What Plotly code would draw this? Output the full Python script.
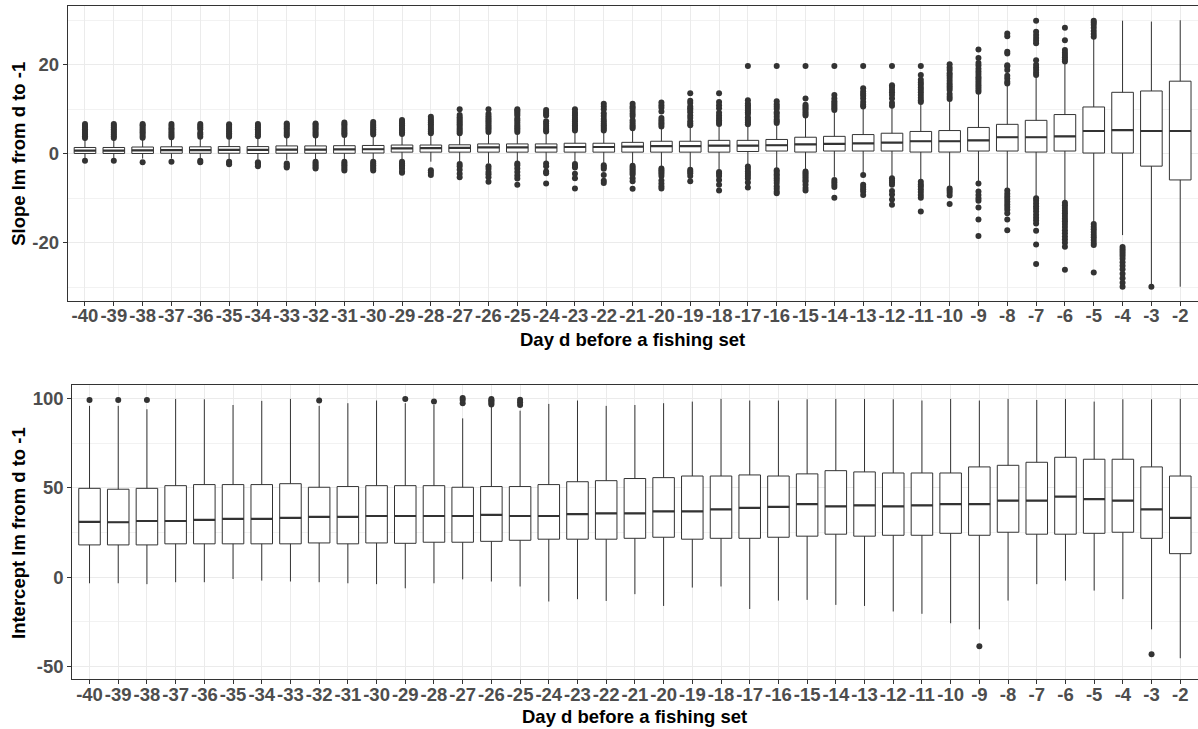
import plotly.graph_objects as go

# Days before a fishing set (x categories)
days = list(range(-40, -1))

# Slope of lm from day d to -1: box statistics per day
slope_q1 = [0.05, 0.05, 0.05, 0.1, 0.1, 0.1, 0.05, 0.1, 0.1, 0.1, 0.15,
            0.35, 0.35, 0.35, 0.35, 0.35, 0.35, 0.35, 0.35, 0.35, 0.35, 0.35, 0.35, 0.5, 0.6,
            0.37, 0.6, 0.6, 0.6, 0.37, 0.37, 0.6, 0.6, 0.37, 0.6, 0.15, 0.15, -2.8, -5.9]
slope_med = [0.7, 0.7, 0.75, 0.8, 0.8, 0.85, 0.85, 0.9, 0.9, 0.95, 1.0,
             1.2, 1.25, 1.3, 1.4, 1.4, 1.4, 1.5, 1.5, 1.6, 1.7, 1.7, 1.8, 1.8, 1.9,
             2.1, 2.2, 2.3, 2.5, 2.8, 2.8, 3.0, 3.7, 3.7, 3.9, 5.1, 5.3, 5.1, 5.1]
slope_q3 = [1.4, 1.4, 1.5, 1.55, 1.55, 1.6, 1.6, 1.75, 1.75, 1.8, 1.85,
            1.95, 1.95, 2.0, 2.2, 2.2, 2.2, 2.35, 2.35, 2.55, 2.8, 2.8, 3.0, 3.0, 3.2,
            3.7, 3.9, 4.3, 4.6, 5.0, 5.2, 5.9, 6.6, 7.5, 8.8, 10.5, 13.8, 14.1, 16.3]
slope_lo = [-1.0, -1.0, -1.1, -1.1, -1.1, -1.2, -1.3, -1.4, -1.4, -1.5, -1.5,
            -1.4, -1.8, -1.8, -2.2, -1.8, -1.8, -1.9, -2.2, -2.3, -2.9, -3.1, -3.6, -2.5, -3.3,
            -3.7, -5.2, -4.3, -5.1, -5.9, -7.4, -6.3, -7.9, -9.6, -10.6, -15.4, -18.3, -29.4, -29.9]
slope_hi = [3.2, 3.2, 3.3, 3.4, 3.5, 3.5, 3.6, 3.8, 3.8, 3.9, 4.0,
            4.1, 4.3, 4.3, 4.6, 4.6, 4.7, 4.9, 4.9, 5.4, 5.8, 6.1, 6.4, 6.3, 6.6,
            8.3, 9.5, 10.2, 10.5, 11.2, 11.8, 13.6, 15.5, 17.3, 20.3, 25.9, 29.9, 29.7, 30.0]
slope_outliers = [
    [3.5, 3.9, 4.3, 4.7, 5.1, 5.5, 5.9, 6.3, 6.7, -1.6],
    [3.5, 3.9, 4.3, 4.7, 5.1, 5.5, 5.9, 6.3, 6.7, -1.6],
    [3.6, 4.0, 4.4, 4.8, 5.2, 5.6, 6.0, 6.4, 6.7, -1.9],
    [3.7, 4.1, 4.5, 4.9, 5.3, 5.7, 6.2, 6.7, -1.8],
    [3.8, 4.3, 4.7, 5.5, 5.9, 6.3, 6.7, -1.6, -1.9],
    [3.8, 4.2, 4.6, 5.0, 5.4, 5.8, 6.2, 6.6, -1.8, -2.1, -2.4],
    [3.9, 4.3, 4.7, 5.1, 5.5, 5.9, 6.3, 6.7, -1.9, -2.2, -2.5, -2.8],
    [4.1, 4.5, 4.9, 5.3, 5.7, 6.1, 6.5, 6.8, -2.2, -2.5, -2.8, -3.1],
    [4.1, 4.5, 4.9, 5.3, 5.7, 6.1, 6.5, 6.8, -1.8, -2.2, -2.6, -3.0, -3.3],
    [4.2, 4.6, 5.0, 5.4, 5.8, 6.2, 6.6, 7.0, -1.8, -2.2, -2.6, -3.0, -3.4, -3.8],
    [4.3, 4.7, 5.1, 5.5, 5.9, 6.3, 6.7, 7.1, -1.8, -2.2, -2.6, -3.0, -3.4, -3.8],
    [4.4, 4.8, 5.2, 5.6, 6.0, 6.4, 6.8, 7.2, 7.6, -1.8, -2.2, -2.6, -3.0, -3.4, -4.0, -4.3],
    [4.6, 5.0, 5.4, 5.8, 6.2, 6.6, 7.0, 7.4, 7.8, 8.3, -3.7, -4.2, -4.8],
    [4.6, 5.0, 5.4, 5.8, 6.2, 6.6, 7.0, 7.4, 7.8, 8.2, 8.7, 10.0, -2.3, -2.8, -3.6, -4.5, -5.3],
    [4.9, 5.3, 5.7, 6.1, 6.5, 6.9, 7.3, 7.7, 8.1, 8.5, 9.0, 10.0, -2.8, -3.4, -4.1, -4.6, -5.3, -6.3],
    [4.9, 5.3, 5.7, 6.1, 6.5, 7.0, 7.5, 7.9, 8.6, 9.0, 9.4, 9.7, 10.0, -2.2, -2.6, -3.3, -4.1, -4.9, -5.6, -7.0],
    [5.0, 5.4, 5.8, 6.3, 6.8, 7.3, 8.6, 9.0, 9.4, 9.8, -2.2, -2.8, -4.0, -4.4, -6.7],
    [5.2, 5.6, 6.0, 6.4, 6.8, 7.3, 7.7, 8.1, 8.6, 9.0, 9.4, 10.0, -2.3, -2.7, -3.1, -4.5, -5.5, -7.8],
    [5.2, 5.6, 6.0, 6.4, 6.8, 7.3, 7.8, 8.5, 9.1, 10.0, 10.6, 11.2, -2.6, -3.0, -3.4, -4.8, -6.1, -6.6],
    [5.7, 6.1, 6.5, 7.0, 7.5, 8.5, 9.0, 9.6, 10.2, 10.6, 11.2, -2.7, -3.1, -3.5, -3.9, -4.3, -4.7, -5.5, -6.2, -7.9],
    [6.1, 6.6, 7.0, 7.5, 8.0, 9.5, 10.3, 10.9, 11.5, -3.3, -3.7, -4.1, -4.5, -5.0, -6.0, -6.7, -7.3, -7.8],
    [6.4, 6.8, 7.3, 8.0, 8.6, 9.3, 9.8, 10.2, 10.6, 11.4, 11.9, 13.6, -3.6, -4.0, -4.4, -5.0, -6.2],
    [6.7, 7.1, 7.5, 8.0, 8.6, 9.2, 10.2, 10.9, 11.6, 13.6, -4.1, -4.5, -5.0, -5.9, -7.0, -8.3],
    [6.6, 7.0, 7.4, 7.8, 8.2, 8.9, 9.3, 9.7, 10.1, 10.5, 10.9, 11.3, 12.0, 19.7,
     -2.9, -3.4, -4.0, -4.5, -5.0, -5.6, -6.5, -7.6],
    [6.9, 7.3, 7.7, 8.3, 8.9, 9.3, 10.1, 10.6, 11.1, 11.8, 19.7,
     -3.7, -4.1, -4.6, -5.0, -5.5, -6.0, -6.6, -7.3, -7.9, -8.5, -8.9],
    [8.6, 9.0, 9.4, 9.8, 10.2, 10.6, 11.0, 12.4, 19.7, -4.0, -4.4, -4.8, -5.2, -5.6, -6.0, -6.3, -7.0, -7.7, -8.3],
    [9.8, 10.2, 10.6, 11.0, 11.4, 11.8, 12.4, 13.2, 19.7, -5.9, -6.4, -7.0, -7.5, -9.9],
    [10.6, 11.0, 11.6, 12.4, 13.0, 13.5, 14.0, 14.7, 19.7, -4.8, -7.0, -7.5, -8.0, -8.5, -9.3],
    [10.8, 11.4, 12.4, 13.2, 13.8, 14.4, 15.0, 15.4, 19.7, -5.5, -6.0, -6.5, -7.0, -8.4, -9.2, -10.3, -11.5],
    [11.6, 12.0, 12.6, 13.2, 13.8, 14.4, 14.9, 15.5, 16.0, 16.6, 17.7, 19.7,
     -6.3, -6.9, -7.4, -8.0, -8.6, -9.3, -9.9, -13.0],
    [12.3, 12.8, 13.4, 14.3, 14.8, 15.3, 15.8, 16.4, 17.0, 17.6, 18.1, 18.8, 19.4, 20.1,
     -7.8, -8.3, -8.8, -9.4, -11.3],
    [13.9, 14.4, 14.9, 15.4, 15.9, 16.4, 16.9, 17.3, 17.9, 18.5, 19.1, 19.8, 20.4, 21.5, 23.4,
     -6.7, -8.5, -9.3, -10.0, -10.6, -12.1, -14.8, -18.5],
    [15.8, 16.2, 16.9, 17.5, 18.8, 19.6, 19.9, 22.5, 22.9, 26.4, 27.0,
     -8.3, -9.0, -9.6, -10.2, -10.8, -11.4, -12.0, -12.6, -13.4, -14.8, -17.2],
    [17.7, 18.2, 18.8, 19.4, 20.0, 21.0, 24.8, 25.4, 26.0, 26.7, 27.4, 29.9,
     -10.0, -10.6, -11.2, -11.8, -12.4, -13.0, -13.7, -14.4, -15.0, -15.7, -17.3, -20.4, -24.8],
    [20.7, 21.2, 21.7, 22.2, 22.7, 23.3, 25.5, 28.3,
     -11.0, -11.6, -12.2, -12.8, -13.4, -14.0, -14.6, -15.2, -15.8, -16.5, -17.2, -17.9, -18.6,
     -19.3, -20.0, -20.9, -26.1],
    [26.3, 26.9, 27.6, 28.3, 29.0, 29.5, 29.9,
     -15.8, -16.4, -17.0, -17.6, -18.2, -18.8, -19.4, -20.0, -20.5, -26.7],
    [-21.0, -21.5, -22.0, -22.5, -23.0, -23.6, -24.4, -25.2, -26.0, -27.0, -28.0, -29.0, -29.9],
    [-29.9],
    [],
]

# Intercept of lm from day d to -1: box statistics per day
int_q1 = [18.1, 18.1, 18.1, 18.7, 18.7, 18.7, 18.7, 18.7, 19.2, 18.7, 19.2,
          19.0, 19.6, 19.6, 20.1, 20.7, 21.3, 21.3, 21.3, 21.8, 22.4, 21.3, 21.8, 21.8, 22.4,
          23.0, 24.1, 23.0, 23.5, 23.5, 24.6, 23.5, 25.2, 24.1, 24.1, 24.6, 25.2, 21.8, 13.2]
int_med = [31.0, 30.8, 31.5, 31.5, 32.1, 32.7, 32.7, 33.2, 33.8, 33.8, 34.3,
           34.3, 34.3, 34.3, 34.9, 34.3, 34.3, 35.3, 35.8, 35.8, 36.9, 36.9, 38.0, 38.8, 39.4,
           40.9, 39.7, 40.3, 39.7, 40.3, 40.9, 40.9, 42.9, 42.9, 45.2, 43.7, 42.9, 38.0, 33.2]
int_q3 = [49.8, 49.3, 49.8, 51.3, 51.9, 51.9, 51.9, 52.4, 50.4, 50.8, 51.3,
          51.3, 51.3, 50.4, 50.8, 50.8, 51.9, 53.5, 54.1, 55.3, 55.8, 56.7, 56.7, 57.3, 56.7,
          57.9, 59.7, 59.0, 58.4, 58.4, 58.4, 61.8, 62.7, 64.4, 67.2, 66.1, 66.1, 61.8, 56.7]
int_lo = [-3.4, -3.4, -3.9, -2.8, -2.8, -1.0, -1.9, -2.4, -2.8, -3.4, -3.9,
          -6.2, -3.4, -1.2, -2.4, -5.2, -13.6, -12.3, -13.3, -9.5, -16.1, -5.8, -5.2, -17.8, -13.1,
          -12.7, -15.5, -16.1, -19.2, -20.5, -25.8, -29.2, -13.1, -3.9, -1.9, -7.5, -12.3, -29.2, -45.4]
int_hi = [96.0, 96.0, 94.1, 99.9, 99.7, 96.5, 98.8, 99.9, 96.0, 97.5, 99.0,
          97.5, 96.5, 89.0, 95.5, 93.3, 97.1, 99.0, 96.0, 96.5, 97.5, 98.4, 99.9, 99.0, 99.0,
          99.7, 99.9, 99.9, 99.7, 99.0, 99.9, 99.0, 99.9, 99.3, 99.9, 98.4, 99.7, 99.7, 99.9]
int_outliers = [
    [99.3], [99.3], [99.3], [], [], [], [], [], [99.0], [], [],
    [99.9], [98.4], [97.5, 99.3, 100.4], [96.8, 97.6, 98.4, 99.2, 99.8], [96.5, 98.0, 99.4],
    [], [], [], [], [], [], [], [], [],
    [], [], [], [], [], [], [-38.7], [], [], [], [], [], [-43.1], [],
]

# Tick labels
x_labels = [str(d) for d in days]
slope_ticks = [-20, 0, 20]
int_ticks = [-50, 0, 50, 100]

W, H = 1198, 729
FONT = "Liberation Sans, Arial, sans-serif"
INK = "#333333"
GRID = "#EBEBEB"
BOX_W = 0.75

pos = list(range(len(days)))


def add_panel(fig, q1, med, q3, lo, hi, outliers, xa, ya):
    fig.add_trace(go.Box(
        x=pos, q1=q1, median=med, q3=q3, lowerfence=lo, upperfence=hi,
        width=BOX_W, whiskerwidth=0, fillcolor="white",
        line=dict(color=INK, width=1), boxpoints=False,
        xaxis=xa, yaxis=ya, showlegend=False, hoverinfo="skip",
    ))
    # thicker median segments, as in ggplot boxplots
    mx, my = [], []
    for i, m in zip(pos, med):
        mx += [i - BOX_W / 2, i + BOX_W / 2, None]
        my += [m, m, None]
    fig.add_trace(go.Scatter(
        x=mx, y=my, mode="lines", line=dict(color=INK, width=2.2),
        xaxis=xa, yaxis=ya, showlegend=False, hoverinfo="skip",
    ))
    ox, oy = [], []
    for i, vals in zip(pos, outliers):
        ox += [i] * len(vals)
        oy += vals
    fig.add_trace(go.Scatter(
        x=ox, y=oy, mode="markers",
        marker=dict(color=INK, size=6, line=dict(width=0)),
        xaxis=xa, yaxis=ya, showlegend=False, hoverinfo="skip",
    ))


fig = go.Figure()
add_panel(fig, slope_q1, slope_med, slope_q3, slope_lo, slope_hi, slope_outliers, "x", "y")
add_panel(fig, int_q1, int_med, int_q3, int_lo, int_hi, int_outliers, "x2", "y2")

tick_font = dict(family=FONT, size=18.5, color="#4D4D4D", weight="bold")
title_font = dict(family=FONT, size=18.5, color="black", weight="bold")

common_x = dict(
    range=[-0.6, len(days) - 0.4], tickmode="array", tickvals=pos, ticktext=x_labels,
    showgrid=True, gridcolor=GRID, gridwidth=1, zeroline=False,
    showline=True, mirror=True, linecolor=INK, linewidth=1,
    ticks="outside", ticklen=4, tickcolor=INK, tickwidth=1,
    tickfont=tick_font, tickangle=0, ticklabelstandoff=-6,
)
common_y = dict(
    showgrid=True, gridcolor=GRID, gridwidth=1, zeroline=False,
    showline=True, mirror=True, linecolor=INK, linewidth=1,
    ticks="outside", ticklen=4, tickcolor=INK, tickwidth=1,
    tickfont=tick_font, tickmode="array",
)

top_lo, top_hi = 1 - 300.5 / H, 1 - 6 / H
bot_lo, bot_hi = 1 - 679.3 / H, 1 - 385 / H

fig.update_layout(
    width=W, height=H, template="none",
    margin=dict(l=0, r=0, t=0, b=0),
    paper_bgcolor="white", plot_bgcolor="white",
    xaxis=dict(common_x, domain=[67.7 / W, 1197.5 / W], anchor="y"),
    yaxis=dict(common_y, domain=[top_lo, top_hi], anchor="x", range=[-33.0, 33.2],
               tickvals=slope_ticks, ticktext=[str(v) for v in slope_ticks],
               minor=dict(tickvals=[-30, -10, 10, 30], showgrid=True, gridcolor="#F2F2F2",
                          gridwidth=1, ticks="")),
    xaxis2=dict(common_x, domain=[72.3 / W, 1197.5 / W], anchor="y2"),
    yaxis2=dict(common_y, domain=[bot_lo, bot_hi], anchor="x2", range=[-57.2, 107.7],
                tickvals=int_ticks, ticktext=[str(v) for v in int_ticks],
                minor=dict(tickvals=[-25, 25, 75], showgrid=True, gridcolor="#F2F2F2",
                           gridwidth=1, ticks="")),
    annotations=[
        dict(text="Slope lm from d to -1", x=18.3 / W, y=1 - 153.5 / H, xref="paper", yref="paper",
             textangle=-90, showarrow=False, font=title_font, xanchor="center", yanchor="middle"),
        dict(text="Day d before a fishing set", x=632.6 / W, y=1 - 339 / H, xref="paper", yref="paper",
             showarrow=False, font=title_font, xanchor="center", yanchor="middle"),
        dict(text="Intercept lm from d to -1", x=18.5 / W, y=1 - 533.5 / H, xref="paper", yref="paper",
             textangle=-90, showarrow=False, font=title_font, xanchor="center", yanchor="middle"),
        dict(text="Day d before a fishing set", x=634.9 / W, y=1 - 716.5 / H, xref="paper", yref="paper",
             showarrow=False, font=title_font, xanchor="center", yanchor="middle"),
    ],
)

fig.write_html("out.html")
